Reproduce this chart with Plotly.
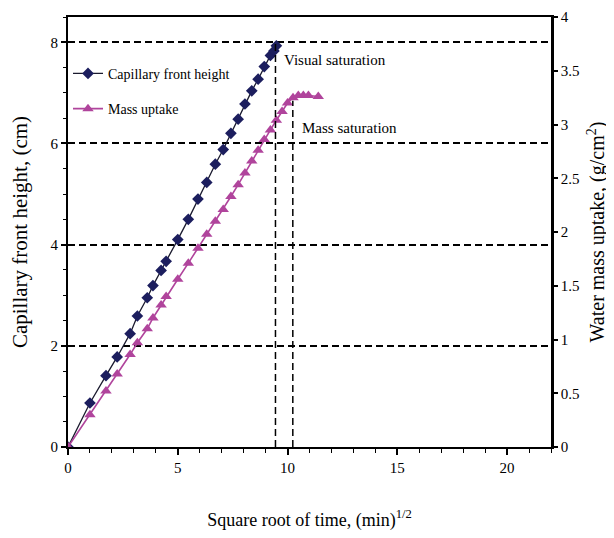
import plotly.graph_objects as go

# ---- data ----
sqrt_time_cap = [0, 1.0, 1.73, 2.24, 2.83, 3.16, 3.61, 3.87, 4.24, 4.47, 5.0, 5.48,
                 5.92, 6.32, 6.71, 7.07, 7.42, 7.75, 8.06, 8.37, 8.66, 8.94, 9.22, 9.38, 9.49]
cap_height = [0, 0.87, 1.41, 1.78, 2.24, 2.59, 2.95, 3.19, 3.49, 3.67, 4.1, 4.5,
              4.9, 5.23, 5.59, 5.88, 6.2, 6.48, 6.78, 7.04, 7.27, 7.52, 7.74, 7.83, 7.93]

sqrt_time_mass = [0, 1.0, 1.73, 2.24, 2.83, 3.16, 3.61, 3.87, 4.24, 4.47, 5.0, 5.48,
                  5.92, 6.32, 6.71, 7.07, 7.42, 7.75, 8.06, 8.37, 8.66, 8.94, 9.22, 9.49,
                  9.75, 10.0, 10.25, 10.49, 10.72, 10.95, 11.4]
mass_uptake = [0, 0.3, 0.52, 0.68, 0.86, 0.97, 1.1, 1.2, 1.32, 1.4, 1.56, 1.71,
               1.85, 1.98, 2.1, 2.21, 2.33, 2.44, 2.55, 2.66, 2.76, 2.86, 2.95, 3.04,
               3.12, 3.2, 3.25, 3.27, 3.27, 3.27, 3.26]

x_ticks = [0, 5, 10, 15, 20]
y_left_ticks = [0, 2, 4, 6, 8]
y_right_ticks = [0, 0.5, 1, 1.5, 2, 2.5, 3, 3.5, 4]

visual_sat_x = 9.45
visual_sat_level = 8          # left axis (cm)
mass_sat_x = 10.24
mass_sat_level = 3.22         # right axis (g/cm2)

FONT = "Liberation Serif"
NAVY = "#1c1e5e"
PINK = "#b0449c"

fig = go.Figure()

fig.add_trace(go.Scatter(
    x=sqrt_time_cap, y=cap_height, mode="lines+markers",
    name="Capillary front height", legendgroup="a",
    line=dict(color="#1a1a2e", width=1.3),
    marker=dict(symbol="diamond", size=9, color=NAVY),
))
fig.add_trace(go.Scatter(
    x=sqrt_time_mass, y=mass_uptake, mode="lines+markers", yaxis="y2",
    name="Mass uptake", legendgroup="b",
    line=dict(color=PINK, width=1.6),
    marker=dict(symbol="triangle-up", size=10, color=PINK),
))

# saturation guide lines
dash = "7px,4px"
fig.add_shape(type="line", xref="x", yref="y", x0=visual_sat_x, x1=visual_sat_x,
              y0=0, y1=visual_sat_level, line=dict(color="black", width=1.5, dash=dash))
fig.add_shape(type="line", xref="x", yref="y2", x0=mass_sat_x, x1=mass_sat_x,
              y0=0, y1=mass_sat_level, line=dict(color="black", width=1.5, dash=dash))

fig.add_annotation(x=9.75, y=7.65, xref="x", yref="y", text="Visual saturation",
                   showarrow=False, xanchor="left",
                   font=dict(family=FONT, size=15, color="black"))
fig.add_annotation(x=10.55, y=6.3, xref="x", yref="y", text="Mass saturation",
                   showarrow=False, xanchor="left",
                   font=dict(family=FONT, size=15, color="black"))

tickfont = dict(family=FONT, size=15, color="black")

fig.update_layout(
    width=606, height=530,
    margin=dict(l=60, r=63, t=9, b=91, autoexpand=False),
    paper_bgcolor="white", plot_bgcolor="white",
    font=dict(family=FONT, color="black"),
    showlegend=True,
    legend=dict(x=0.0, y=0.905, xanchor="left", yanchor="top",
                bgcolor="rgba(0,0,0,0)", tracegroupgap=14,
                font=dict(family=FONT, size=14, color="black")),
    xaxis=dict(
        range=[0, 22], tickvals=x_ticks, showgrid=False, zeroline=False,
        automargin=False,
        showline=True, linecolor="black", linewidth=2, mirror=True,
        ticks="outside", ticklen=6, tickwidth=1.5, tickcolor="black",
        minor=dict(dtick=1, ticks="outside", ticklen=4, tickwidth=1.2, tickcolor="black"),
        tickfont=tickfont,
        title=dict(text="Square root of time, (min)<sup>1/2</sup>",
                   font=dict(family=FONT, size=18, color="black"), standoff=38),
    ),
    xaxis2=dict(
        range=[0, 22], overlaying="x", anchor="y", side="bottom",
        tickvals=x_ticks, showticklabels=False, showgrid=False, zeroline=False,
        showline=False, automargin=False,
        ticks="inside", ticklen=5, tickwidth=1.5, tickcolor="black",
        minor=dict(dtick=1, ticks="inside", ticklen=4, tickwidth=1.2, tickcolor="black"),
    ),
    yaxis=dict(
        range=[0, 8.5], tickvals=y_left_ticks, zeroline=False, automargin=False,
        showgrid=True, gridcolor="black", gridwidth=1.5, griddash=dash,
        showline=True, linecolor="black", linewidth=2,
        ticks="outside", ticklen=5, tickwidth=1.5, tickcolor="black",
        minor=dict(dtick=0.5, ticks="outside", ticklen=3, tickwidth=1.2,
                   tickcolor="black", showgrid=False),
        tickfont=tickfont,
        title=dict(text="Capillary front height, (cm)",
                   font=dict(family=FONT, size=21, color="black"), standoff=18),
    ),
    yaxis2=dict(
        range=[0, 4], tickvals=y_right_ticks, overlaying="y", side="right",
        showgrid=False, zeroline=False, automargin=False,
        showline=True, linecolor="black", linewidth=2.5,
        ticks="outside", ticklen=4, tickwidth=1.5, tickcolor="black",
        tickfont=tickfont,
        title=dict(text="Water mass uptake, (g/cm<sup>2</sup>)",
                   font=dict(family=FONT, size=20, color="black"), standoff=12),
    ),
    yaxis3=dict(
        range=[0, 8.5], overlaying="y", side="left", anchor="x",
        tickvals=y_left_ticks, showticklabels=False, showgrid=False, zeroline=False,
        showline=False, automargin=False,
        ticks="inside", ticklen=4, tickwidth=1.5, tickcolor="black",
        minor=dict(dtick=0.5, ticks="inside", ticklen=3, tickwidth=1.2, tickcolor="black"),
    ),
    yaxis4=dict(
        range=[0, 4], overlaying="y", side="right", anchor="x",
        tickvals=y_right_ticks, showticklabels=False, showgrid=False, zeroline=False,
        showline=False, automargin=False,
        ticks="inside", ticklen=4, tickwidth=1.5, tickcolor="black",
    ),
)

fig.write_html("out.html")
